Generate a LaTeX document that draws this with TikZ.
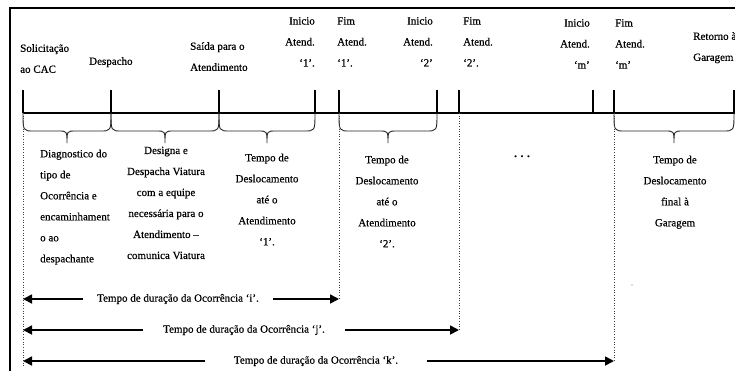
\documentclass[tikz,border=0pt]{standalone}
\usepackage{fontspec}
\setmainfont[FakeBold=0.5]{Liberation Serif}
\usetikzlibrary{arrows.meta}
\newcommand\tlbrace[2]{%
  \pgfmathsetmacro\bm{(#1+#2)/2}%
  \draw[brc] (#1,113) .. controls (#1,131) .. ({#1+11},131) -- ({\bm-9},131)
    .. controls (\bm,131) .. (\bm,143)
    .. controls (\bm,131) .. ({\bm+9},131) -- ({#2-11},131)
    .. controls (#2,131) .. (#2,113);}
\begin{document}
\begin{tikzpicture}[x=1pt,y=-1pt,
  txt/.style={font=\fontsize{11}{21}\selectfont, inner sep=0pt},
  tickline/.style={line width=2.4pt},
  axisline/.style={line width=2.8pt},
  frameline/.style={line width=1.8pt},
  brc/.style={line width=0.9pt, black!85},
  guide/.style={dotted, line width=0.6pt, black!75},
  dur/.style={line width=1.7pt, -{Triangle[length=9pt,width=9pt]}},
  durlab/.style={font=\fontsize{11}{13}\selectfont, inner sep=0pt}
]
\useasboundingbox (0,0) rectangle (735,370);
% frame
\draw[frameline] (10,372) -- (10,8) -- (737,8);
% tick coordinates
\coordinate (a0) at (23,113);
\coordinate (a1) at (111,113);
\coordinate (a2) at (219,113);
\coordinate (a3) at (315,113);
\coordinate (a4) at (339,113);
\coordinate (a5) at (437,113);
\coordinate (a6) at (459,113);
\coordinate (a7) at (593,113);
\coordinate (a8) at (614,113);
\coordinate (a9) at (734,113);
\coordinate (aend) at (737,113);
\draw[axisline] (a0) -- (aend);
\foreach \i in {0,...,9} \draw[tickline] (a\i) -- ++(0,-23);
% braces
\tlbrace{23}{111}
\tlbrace{111}{219}
\tlbrace{219}{315}
\tlbrace{339}{437}
\tlbrace{614}{734}
% top labels
\node[txt, anchor=north west, align=left] (sol) at (20,44) {Solicitação\\ao CAC};
\node[txt, anchor=north west, align=left] (desp) at (89,57) {Despacho};
\node[txt, anchor=north west, align=left] (said) at (190,42) {Saída para o\\Atendimento};
\node[txt, anchor=north east, align=right] (ini1) at (315,17) {Inicio\\Atend.\\‘1’.};
\node[txt, anchor=north west, align=left] (fim1) at (337,17) {Fim\\Atend.\\‘1’.};
\node[txt, anchor=north east, align=right] (ini2) at (433,17) {Inicio\\Atend.\\‘2’};
\node[txt, anchor=north west, align=left] (fim2) at (463,17) {Fim\\Atend.\\‘2’.};
\node[txt, anchor=north east, align=right] (inim) at (590,19) {Inicio\\Atend.\\‘m’};
\node[txt, anchor=north west, align=left] (fimm) at (615,19) {Fim\\Atend.\\‘m’};
\node[txt, anchor=north west, align=left] (ret) at (693,32) {Retorno à\\Garagem};
% bottom labels
\node[txt, anchor=north west, align=left] (diag) at (40,149.5) {Diagnostico do\\tipo de\\Ocorrência e\\encaminhament\\o ao\\despachante};
\node[txt, anchor=north, align=center] (desig) at (166,146.5) {Designa e\\Despacha Viatura\\com a equipe\\necessária para o\\Atendimento –\\comunica Viatura};
\node[txt, anchor=north, align=center] (tdes1) at (267,153.5) {Tempo de\\Deslocamento\\até o\\Atendimento\\‘1’.};
\node[txt, anchor=north, align=center] (tdes2) at (387,155.5) {Tempo de\\Deslocamento\\até o\\Atendimento\\‘2’.};
\node[txt, anchor=base] (dots) at (522,157) {\bfseries .\,\,.\,\,.};
\node[txt, anchor=north, align=center] (tfin) at (675,155.5) {Tempo de\\Deslocamento\\final à\\Garagem};
\fill[black!60] (632,285) circle (0.6);
% guides and duration arrows
\coordinate (il) at (23,299);
\coordinate (ir) at (339,299);
\coordinate (jl) at (23,330);
\coordinate (jr) at (459,330);
\coordinate (kl) at (23,361);
\coordinate (kr) at (614,361);
\coordinate (gb) at (23,367);
\draw[guide] (a0) -- (gb);
\draw[guide] (a4) -- (ir);
\draw[guide] (a6) -- (jr);
\draw[guide] (a8) -- (kr);
\node[durlab, minimum width=190pt] (ti) at (178,299) {Tempo de duração da Ocorrência ‘i’.};
\node[durlab, minimum width=202pt] (tj) at (244,330) {Tempo de duração da Ocorrência ‘j’.};
\node[durlab, minimum width=222pt] (tk) at (316,361) {Tempo de duração da Ocorrência ‘k’.};
\draw[dur] (ti.west) -- (il);
\draw[dur] (ti.east) -- (ir);
\draw[dur] (tj.west) -- (jl);
\draw[dur] (tj.east) -- (jr);
\draw[dur] (tk.west) -- (kl);
\draw[dur] (tk.east) -- (kr);
\end{tikzpicture}
\end{document}
